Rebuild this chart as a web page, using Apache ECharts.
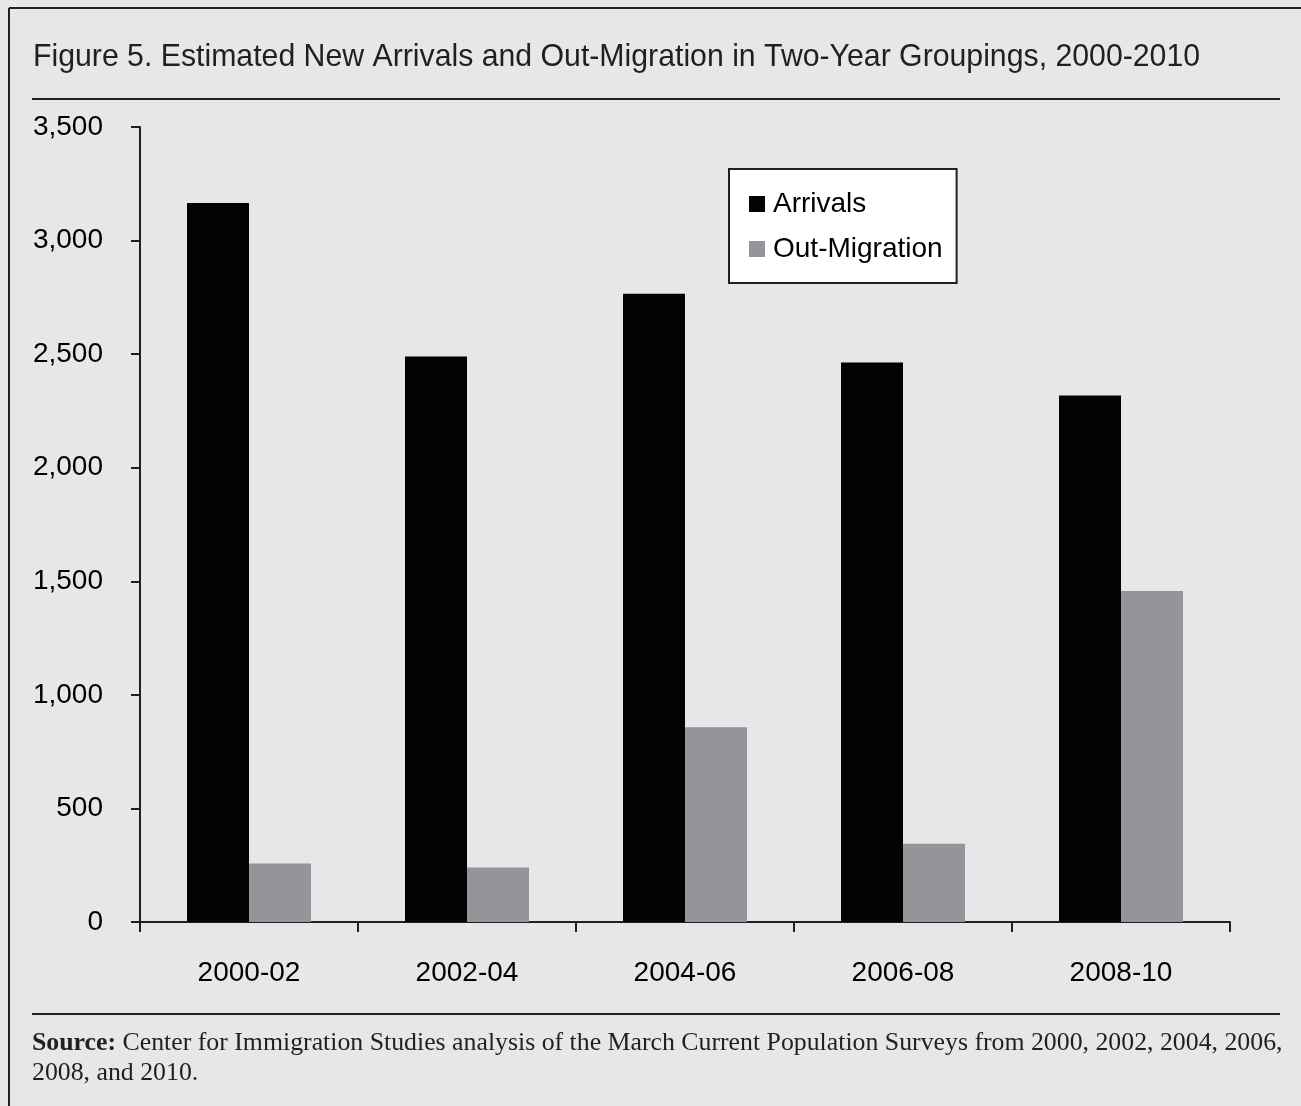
<!DOCTYPE html>
<html>
<head>
<meta charset="utf-8">
<script src="https://cdn.jsdelivr.net/npm/echarts@6/dist/echarts.min.js"></script>
<style>
  html, body { margin: 0; padding: 0; background: #e6e7e8; }
  #chart { width: 1301px; height: 1106px; }
</style>
</head>
<body>
<div id="chart"></div>
<script>
// Two-year groupings and estimated flows (thousands)
const periods = ['2000-02', '2002-04', '2004-06', '2006-08', '2008-10'];
const arrivals = [3165, 2490, 2766, 2463, 2318];
const outMigration = [258, 240, 857, 344, 1457];
const yMin = 0, yMax = 3500, yStep = 500;

const titleText = 'Figure 5. Estimated New Arrivals and Out-Migration in Two-Year Groupings, 2000-2010';
const sourceLine1 = 'Center for Immigration Studies analysis of the March Current Population Surveys from 2000, 2002, 2004, 2006,';
const sourceLine2 = '2008, and 2010.';

const ink = '#231f20';
const sans = '"Liberation Sans Narrow", "Liberation Sans", Arial, sans-serif';
const serif = '"Liberation Serif", "DejaVu Serif", serif';

const chart = echarts.init(document.getElementById('chart'), null, { renderer: 'canvas' });

chart.setOption({
  backgroundColor: '#e6e7e8',
  animation: false,
  grid: { left: 140, right: 71, top: 127, bottom: 184, containLabel: false },
  legend: {
    orient: 'vertical',
    left: 729,
    top: 169,
    padding: [21, 14, 20, 20],
    itemWidth: 16,
    itemHeight: 16,
    itemGap: 17,
    backgroundColor: '#ffffff',
    borderColor: ink,
    borderWidth: 2,
    borderRadius: 0,
    icon: 'rect',
    textStyle: { fontFamily: sans, fontSize: 28, color: '#000', padding: [0, 0, 0, 3] },
    data: ['Arrivals', 'Out-Migration']
  },
  xAxis: {
    type: 'category',
    data: periods,
    axisLine: { lineStyle: { color: ink, width: 2 } },
    axisTick: { show: true, length: 10, lineStyle: { color: ink, width: 2 } },
    axisLabel: { fontFamily: sans, fontSize: 28, color: '#000', margin: 37 }
  },
  yAxis: {
    type: 'value',
    min: yMin,
    max: yMax,
    interval: yStep,
    splitLine: { show: false },
    axisLine: { show: true, lineStyle: { color: ink, width: 2 } },
    axisTick: { show: true, length: 9, lineStyle: { color: ink, width: 2 } },
    axisLabel: {
      fontFamily: sans, fontSize: 28, color: '#000', margin: 37,
      padding: [7, 0, 0, 0],
      formatter: v => v.toLocaleString('en-US')
    }
  },
  series: [
    {
      name: 'Arrivals',
      type: 'bar',
      data: arrivals,
      barWidth: 62,
      barGap: '0%',
      itemStyle: { color: '#030303' }
    },
    {
      name: 'Out-Migration',
      type: 'bar',
      data: outMigration,
      barWidth: 62,
      barGap: '0%',
      itemStyle: { color: '#939598' }
    }
  ],
  graphic: [
    // outer frame (left and top edges)
    { type: 'line', shape: { x1: 9, y1: 8, x2: 9, y2: 1106 }, style: { stroke: ink, lineWidth: 2 } },
    { type: 'line', shape: { x1: 9, y1: 8, x2: 1301, y2: 8 }, style: { stroke: ink, lineWidth: 2 } },
    {
      type: 'text', x: 33, y: 57, scaleX: 0.945,
      style: { text: titleText, font: '32px ' + sans, fill: ink, textVerticalAlign: 'middle' }
    },
    { type: 'line', shape: { x1: 32, y1: 99, x2: 1280, y2: 99 }, style: { stroke: ink, lineWidth: 2 } },
    { type: 'line', shape: { x1: 32, y1: 1014, x2: 1280, y2: 1014 }, style: { stroke: ink, lineWidth: 2 } },
    {
      type: 'text', x: 32, y: 1028,
      style: {
        text: '{b|Source:} ' + sourceLine1 + '\n' + sourceLine2,
        font: '25.8px ' + serif,
        fill: ink,
        lineHeight: 30,
        rich: {
          b: { font: 'bold 25.8px ' + serif, fill: ink, lineHeight: 30 }
        }
      }
    }
  ]
});
</script>
</body>
</html>
